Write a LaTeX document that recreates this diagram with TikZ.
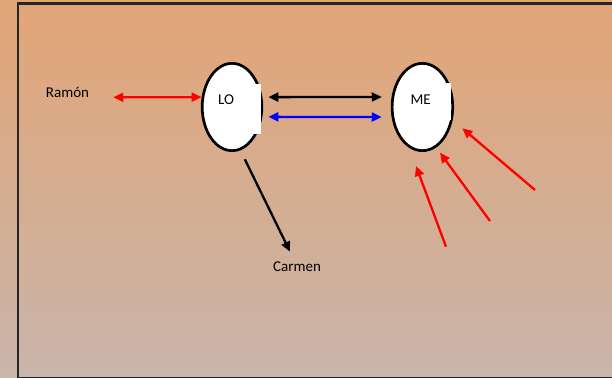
\documentclass[tikz,border=0pt]{standalone}
\usepackage{fontspec}
\setmainfont{Carlito}
\usetikzlibrary{shapes.geometric,arrows.meta}
\definecolor{bgtop}{RGB}{226,165,118}
\definecolor{bgbottom}{RGB}{201,181,171}
\tikzstyle{bubble} = [ellipse, draw, line width=2.7bp, fill=white, minimum width=59.6bp, minimum height=87.3bp, inner sep=0pt]
\tikzstyle{word} = [font=\fontsize{15bp}{18bp}\selectfont, inner sep=2bp, anchor=base]
\tikzstyle{link} = [line width=2.3bp, {Triangle[length=10bp,width=9bp]}-{Triangle[length=10bp,width=9bp]}]
\tikzstyle{ray} = [line width=2.3bp, -{Triangle[length=10bp,width=9bp]}]

\begin{document}
\begin{tikzpicture}[x=1bp, y=-1bp]
\useasboundingbox (0,0) rectangle (612,377);
\shade[top color=bgtop, bottom color=bgbottom] (0,0) rectangle (612,377);
\draw[line width=2.3bp, black!85] (18,3.5) rectangle (614,377.8);

\node[bubble] (lo) at (232,107) {};
\node[bubble, minimum width=60.6bp] (me) at (422.4,107) {};
\fill[white] (248,84) rectangle (260.7,134);
\fill[white] (440,83) rectangle (450.8,120);

\node[word] (lotext) at (226,104) {LO};
\node[word] (metext) at (420.7,104) {ME};
\node[word] (ramon) at (67.5,97.3) {Ramón};
\node[word] (carmen) at (297,271.7) {Carmen};

\draw[link, red, shorten <=22bp] (ramon.base east) -- (lo.162);
\draw[link, shorten <=6bp, shorten >=9.8bp] (lo.18) -- (me.162);
\draw[link, blue, shorten <=6bp, shorten >=9.8bp] (lo.-18) -- (me.-162);
\draw[ray, shorten <=10bp, shorten >=9bp] (lo.-79) -- ([xshift=-3bp]carmen.north);

\coordinate (in1) at (446,246.7);
\coordinate (hit1) at (416,166);
\coordinate (in2) at (490,221);
\coordinate (hit2) at (440,152.7);
\coordinate (in3) at (535,190);
\coordinate (hit3) at (462.3,128.3);
\foreach \i in {1,2,3}
  \draw[ray, red] (in\i) -- (hit\i);
\end{tikzpicture}
\end{document}
